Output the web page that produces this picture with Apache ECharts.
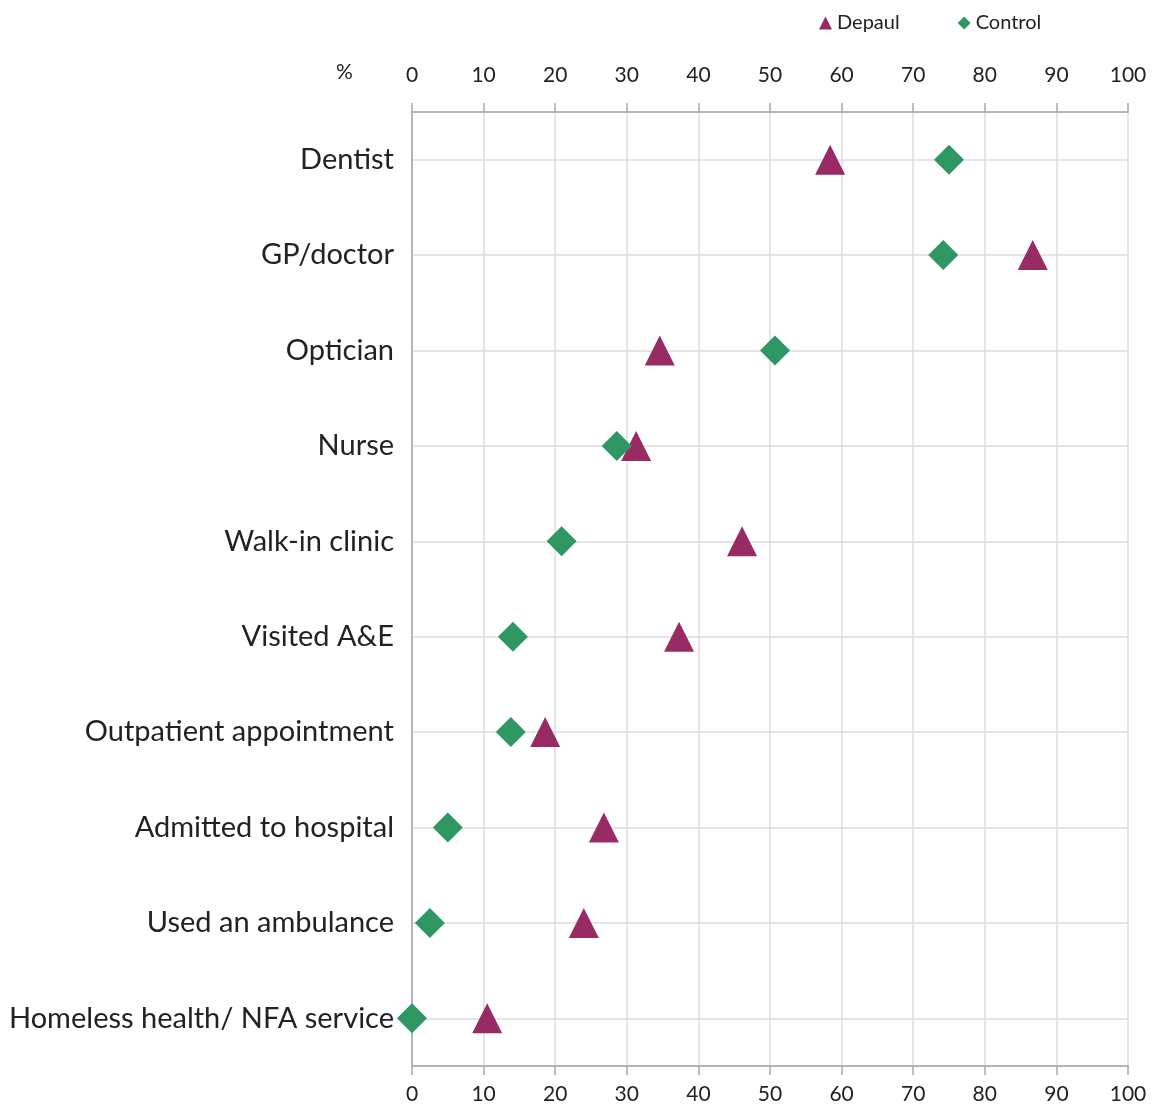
<!DOCTYPE html>
<html>
<head>
<meta charset="utf-8">
<script src="https://cdn.jsdelivr.net/npm/echarts@6/dist/echarts.min.js"></script>
<style>html,body{margin:0;padding:0;background:#fff}#c{width:1160px;height:1108px}</style>
</head>
<body>
<div id="c"></div>
<script>
const categories = ['Dentist','GP/doctor','Optician','Nurse','Walk-in clinic','Visited A&E','Outpatient appointment','Admitted to hospital','Used an ambulance','Homeless health/ NFA service'];
const depaul = [58.4, 86.7, 34.6, 31.3, 46.1, 37.3, 18.6, 26.8, 24.0, 10.5];
const control = [75.0, 74.2, 50.7, 28.6, 20.9, 14.1, 13.8, 5.0, 2.5, 0];
const xTicks = {min: 0, max: 100, interval: 10};

const FONT = 'Lato, "Open Sans", sans-serif';
const chart = echarts.init(document.getElementById('c'));
const xAxisBase = (pos) => ({
  type: 'value', position: pos, min: xTicks.min, max: xTicks.max, interval: xTicks.interval,
  axisLine: {show: true, lineStyle: {color: '#b5b5b5', width: 2}},
  axisTick: {show: true, length: 9, lineStyle: {color: '#a8a8a8', width: 1.5}},
  axisLabel: {color: '#222', fontFamily: FONT, fontSize: 21, margin: pos === 'top' ? 26 : 18},
  splitLine: {show: pos === 'top', lineStyle: {color: '#dcdcdc', width: 1.5}}
});
chart.setOption({
  animation: false,
  grid: {left: 412, right: 32, top: 112, bottom: 42, containLabel: false},
  legend: {
    left: 814, top: 8, itemWidth: 13, itemHeight: 13, itemGap: 58,
    textStyle: {fontFamily: FONT, fontSize: 20, color: '#222'},
    data: [{name: 'Depaul', icon: 'triangle'}, {name: 'Control', icon: 'diamond'}]
  },
  graphic: [{type: 'text', left: 336, top: 62, style: {text: '%', font: '21px ' + FONT, fill: '#222'}}],
  xAxis: [xAxisBase('top'), xAxisBase('bottom')],
  yAxis: {
    type: 'category', data: categories, inverse: true,
    axisLine: {show: true, lineStyle: {color: '#b5b5b5', width: 2}},
    axisTick: {show: false},
    axisLabel: {color: '#222', fontFamily: FONT, fontSize: 29, margin: 18},
    splitLine: {show: true, alignWithLabel: true, lineStyle: {color: '#dcdcdc', width: 1.5}}
  },
  series: [
    {name: 'Depaul', type: 'scatter', xAxisIndex: 0, symbol: 'triangle', symbolSize: [30, 30],
     itemStyle: {color: '#982a64', opacity: 1}, data: depaul, z: 3},
    {name: 'Control', type: 'scatter', xAxisIndex: 0, symbol: 'diamond', symbolSize: [30, 30],
     itemStyle: {color: '#2e9763', opacity: 1}, data: control, z: 4}
  ]
});
</script>
</body>
</html>
